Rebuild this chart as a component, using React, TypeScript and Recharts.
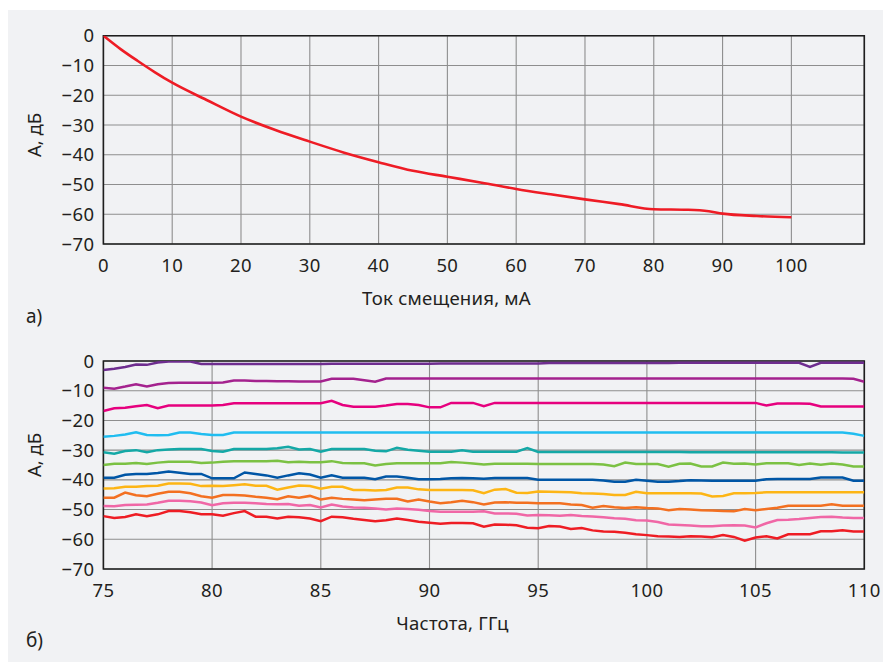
import React from 'react';
import { LineChart, Line, XAxis, YAxis, CartesianGrid, ReferenceArea } from 'recharts';

// ---------- panel a) : attenuation vs bias current ----------
const currentMA = [0, 2.5, 5, 7.5, 10, 15, 20, 25, 30, 35, 40, 45, 50, 55, 60, 65, 70, 75, 80, 85, 88, 90, 95, 100];
const attenuationDb = [0, -4.5, -8.5, -12.3, -15.8, -21.6, -27.2, -31.7, -35.6, -39.3, -42.5, -45.4, -47.4, -49.4, -51.5, -53.3, -55.0, -56.6, -58.3, -58.5, -59.0, -59.8, -60.6, -61.0];
const currentTicks = [0, 10, 20, 30, 40, 50, 60, 70, 80, 90, 100];
const dbTicks = [0, -10, -20, -30, -40, -50, -60, -70];

// ---------- panel б) : attenuation vs frequency ----------
const freqGHz = [
  75, 75.5, 76, 76.5, 77, 77.5, 78, 78.5, 79, 79.5,
  80, 80.5, 81, 81.5, 82, 82.5, 83, 83.5, 84, 84.5,
  85, 85.5, 86, 86.5, 87, 87.5, 88, 88.5, 89, 89.5,
  90, 90.5, 91, 91.5, 92, 92.5, 93, 93.5, 94, 94.5,
  95, 95.5, 96, 96.5, 97, 97.5, 98, 98.5, 99, 99.5,
  100, 100.5, 101, 101.5, 102, 102.5, 103, 103.5, 104, 104.5,
  105, 105.5, 106, 106.5, 107, 107.5, 108, 108.5, 109, 109.5,
  110,
];
const freqTicks = [75, 80, 85, 90, 95, 100, 105, 110];

const s1 = [
  -3.0, -2.6, -2.0, -1.2, -1.3, -0.5, -0.2, -0.2, -0.2, -1.0,
  -1.0, -1.0, -1.0, -1.0, -1.0, -1.0, -1.0, -1.0, -1.0, -1.0,
  -1.0, -0.9, -0.9, -0.9, -0.9, -0.9, -0.9, -0.9, -0.9, -0.9,
  -0.9, -0.8, -0.8, -0.8, -0.8, -0.8, -0.8, -0.8, -0.8, -0.8,
  -0.8, -0.7, -0.7, -0.7, -0.7, -0.7, -0.7, -0.7, -0.7, -0.7,
  -0.7, -0.7, -0.7, -0.6, -0.6, -0.6, -0.6, -0.6, -0.6, -0.6,
  -0.6, -0.6, -0.6, -0.6, -0.6, -2.0, -0.6, -0.6, -0.6, -0.6,
  -0.6,
];
const s2 = [
  -9.0, -9.3, -8.6, -7.8, -8.6, -7.8, -7.4, -7.3, -7.3, -7.3,
  -7.3, -7.2, -6.6, -6.6, -6.7, -6.7, -6.8, -6.8, -6.9, -6.9,
  -6.9, -6.0, -6.0, -6.0, -6.5, -7.0, -5.9, -5.9, -5.9, -5.9,
  -5.9, -5.9, -5.9, -5.9, -5.9, -5.9, -5.9, -5.9, -5.9, -5.9,
  -5.9, -5.9, -5.9, -5.9, -5.9, -5.9, -5.9, -5.9, -5.9, -5.9,
  -5.9, -5.9, -5.9, -5.9, -5.9, -5.9, -5.9, -5.9, -5.9, -5.9,
  -5.9, -5.9, -5.9, -5.9, -5.9, -5.9, -5.9, -5.9, -5.9, -6.0,
  -7.0,
];
const s3 = [
  -16.8, -15.9, -15.7, -15.2, -14.8, -15.9, -15.0, -15.0, -15.0, -15.0,
  -15.0, -14.8, -14.2, -14.2, -14.2, -14.2, -14.2, -14.2, -14.2, -14.2,
  -14.2, -13.4, -14.8, -15.4, -15.4, -15.4, -15.0, -14.5, -14.5, -14.8,
  -15.6, -15.6, -14.1, -14.1, -14.1, -15.2, -14.1, -14.1, -14.1, -14.1,
  -14.1, -14.1, -14.1, -14.1, -14.1, -14.1, -14.1, -14.1, -14.1, -14.1,
  -14.1, -14.1, -14.1, -14.1, -14.1, -14.1, -14.1, -14.1, -14.1, -14.1,
  -14.1, -15.0, -14.3, -14.3, -14.3, -14.4, -15.3, -15.3, -15.3, -15.3,
  -15.3,
];
const s4 = [
  -25.5, -25.2, -24.7, -24.0, -24.9, -25.0, -24.9, -24.1, -24.1, -24.6,
  -24.9, -24.9, -24.1, -24.1, -24.1, -24.1, -24.1, -24.1, -24.1, -24.1,
  -24.1, -24.1, -24.1, -24.1, -24.1, -24.1, -24.1, -24.1, -24.1, -24.1,
  -24.1, -24.1, -24.1, -24.1, -24.1, -24.1, -24.1, -24.1, -24.1, -24.1,
  -24.1, -24.1, -24.1, -24.1, -24.1, -24.1, -24.1, -24.1, -24.1, -24.1,
  -24.1, -24.1, -24.1, -24.1, -24.1, -24.1, -24.1, -24.1, -24.1, -24.1,
  -24.1, -24.1, -24.1, -24.1, -24.1, -24.1, -24.1, -24.1, -24.1, -24.5,
  -25.2,
];
const s5 = [
  -30.7, -31.2, -30.3, -30.0, -30.7, -30.0, -29.8, -29.6, -29.6, -29.6,
  -30.3, -30.5, -29.6, -29.6, -29.6, -29.6, -29.4, -28.9, -29.8, -29.6,
  -30.5, -29.6, -29.6, -29.6, -29.6, -30.2, -30.4, -29.2, -29.9, -30.2,
  -30.5, -30.5, -30.5, -30.0, -30.5, -30.5, -30.5, -30.5, -30.5, -29.3,
  -30.6, -30.6, -30.6, -30.6, -30.6, -30.6, -30.6, -30.6, -30.6, -30.6,
  -30.6, -30.6, -30.6, -30.6, -30.7, -30.7, -30.7, -30.7, -30.7, -30.7,
  -30.7, -30.7, -30.7, -30.7, -30.7, -30.7, -30.7, -30.7, -30.8, -30.8,
  -30.8,
];
const s6 = [
  -35.0, -34.6, -34.6, -34.3, -34.7, -34.2, -33.9, -33.9, -33.9, -34.3,
  -34.2, -33.9, -33.7, -33.7, -33.7, -33.7, -33.6, -34.1, -33.9, -34.1,
  -34.1, -33.7, -34.3, -34.4, -34.4, -35.2, -34.7, -34.4, -34.4, -34.4,
  -34.4, -34.4, -34.0, -34.2, -34.5, -34.8, -34.6, -34.6, -34.6, -34.6,
  -34.7, -34.7, -34.7, -34.7, -34.7, -34.7, -34.8, -35.4, -34.2, -34.7,
  -34.7, -34.7, -35.6, -34.6, -34.5, -35.5, -35.5, -34.2, -34.6, -34.5,
  -34.8, -34.4, -34.4, -34.4, -35.0, -34.5, -34.9, -34.5, -34.8, -35.5,
  -35.5,
];
const s7 = [
  -39.3, -39.3, -38.3, -38.0, -38.0, -37.7, -37.2, -37.6, -38.0, -38.0,
  -39.5, -39.5, -39.5, -37.5, -38.0, -38.5, -39.3, -38.5, -37.8, -38.2,
  -39.3, -38.5, -39.3, -39.3, -39.3, -39.8, -38.9, -38.9, -39.3, -39.8,
  -39.8, -39.7, -39.5, -39.4, -39.5, -39.6, -39.4, -39.4, -39.4, -39.4,
  -40.0, -40.0, -40.0, -40.0, -40.0, -40.0, -40.2, -40.6, -40.6, -40.0,
  -40.3, -40.6, -40.6, -40.4, -40.1, -40.2, -40.3, -40.3, -40.3, -40.3,
  -40.3, -39.8, -39.7, -39.7, -39.7, -39.7, -39.2, -39.2, -39.2, -40.3,
  -40.3,
];
const s8 = [
  -42.9, -42.8, -42.3, -42.3, -42.1, -42.0, -41.2, -41.2, -41.3, -42.1,
  -42.0, -42.1, -41.8, -41.5, -42.0, -42.0, -43.3, -42.6, -41.9, -42.1,
  -43.0, -42.3, -42.3, -43.4, -43.4, -43.6, -43.4, -42.6, -42.6, -43.2,
  -43.4, -43.4, -43.4, -43.4, -43.5, -44.5, -43.3, -43.1, -44.3, -44.4,
  -43.9, -44.0, -44.1, -44.2, -44.5, -44.6, -44.8, -45.1, -45.1, -44.0,
  -44.5, -44.5, -44.5, -44.5, -44.5, -44.6, -45.6, -45.4, -44.5, -44.5,
  -44.4, -44.2, -44.2, -44.2, -44.2, -44.2, -44.2, -44.2, -44.2, -44.2,
  -44.2,
];
const s9 = [
  -46.0, -46.0, -44.3, -45.2, -45.5, -44.7, -44.0, -44.0, -44.5, -45.5,
  -46.0, -45.1, -45.1, -45.3, -45.7, -46.0, -46.5, -45.5, -46.0, -45.4,
  -46.6, -46.0, -46.4, -46.6, -46.9, -46.6, -46.4, -46.4, -47.3, -46.6,
  -47.3, -47.9, -47.5, -47.0, -47.5, -48.3, -47.6, -47.5, -47.7, -47.7,
  -47.9, -47.9, -47.9, -48.3, -48.5, -49.4, -48.8, -49.2, -49.5, -49.2,
  -49.5, -49.6, -50.2, -49.8, -50.0, -50.2, -50.3, -50.5, -50.6, -49.8,
  -50.2, -49.8, -49.4, -48.7, -48.7, -48.7, -48.7, -48.2, -48.7, -48.7,
  -48.7,
];
const s10 = [
  -48.8, -48.9, -48.5, -48.4, -48.3, -47.7, -47.0, -47.0, -47.2, -47.6,
  -48.5, -47.9, -47.7, -47.7, -47.9, -48.1, -48.2, -48.1, -48.7, -48.5,
  -49.3, -48.3, -49.0, -49.3, -49.4, -49.6, -50.0, -49.6, -49.8, -50.1,
  -50.5, -50.7, -50.7, -50.7, -50.7, -50.6, -51.3, -51.3, -51.4, -52.0,
  -51.8, -51.9, -52.1, -51.8, -52.2, -52.3, -52.6, -52.9, -53.1, -53.6,
  -53.7, -54.2, -55.0, -55.2, -55.4, -55.6, -55.6, -55.4, -55.3, -55.4,
  -56.0, -54.6, -53.5, -53.4, -53.2, -52.8, -52.5, -52.4, -52.7, -52.8,
  -52.8,
];
const s11 = [
  -52.2, -52.8, -52.5, -51.6, -52.2, -51.6, -50.5, -50.5, -50.9, -51.6,
  -51.6, -52.1, -51.2, -50.5, -52.4, -52.4, -53.0, -52.4, -52.6, -53.0,
  -53.9, -52.4, -52.6, -53.1, -53.5, -53.9, -53.6, -53.0, -53.5, -54.1,
  -54.4, -54.8, -54.5, -54.5, -54.6, -55.8, -55.0, -55.1, -55.3, -56.1,
  -56.3, -55.5, -55.7, -56.5, -56.2, -57.0, -57.4, -57.5, -57.8, -58.3,
  -58.6, -59.0, -59.1, -59.2, -59.0, -59.1, -59.3, -58.6, -59.2, -60.5,
  -59.4, -59.0, -59.7, -58.3, -58.3, -58.3, -57.3, -57.3, -57.0, -57.4,
  -57.4,
];

const seriesValues: Record<string, number[]> = { s1, s2, s3, s4, s5, s6, s7, s8, s9, s10, s11 };
const seriesColors: Record<string, string> = {
  s1: '#6e2d8f',
  s2: '#a4228e',
  s3: '#e6007e',
  s4: '#20bdf0',
  s5: '#14a8a6',
  s6: '#7bc143',
  s7: '#0056a6',
  s8: '#fdb515',
  s9: '#f37021',
  s10: '#f067a6',
  s11: '#ee1d24',
};
const seriesKeys = Object.keys(seriesValues);

const topRows = currentMA.map((x, i) => ({ x, a: attenuationDb[i] }));
const bottomRows = freqGHz.map((f, i) => {
  const row: Record<string, number> = { f };
  seriesKeys.forEach((k) => {
    row[k] = seriesValues[k][i];
  });
  return row;
});

const FONT = '"Noto Sans", "Open Sans", sans-serif';
const TEXT = '#231f20';
const GRID = '#8e8e8e';
const BORDER = '#1e1e1e';
const fmt = (v: number) => String(v).replace('-', '\u2212');
const tickStyle = { fill: TEXT, fontSize: 18.5, fontFamily: FONT, letterSpacing: 0.4 };

export default function App() {
  return (
    <div style={{ position: 'absolute', left: 0, top: 0, width: 883, height: 662, fontFamily: FONT }}>
      <div style={{ position: 'absolute', left: 8, top: 10, width: 875, height: 652, background: '#f1f2f4' }} />

      <div style={{ position: 'absolute', left: 0, top: 0 }}>
        <LineChart width={883} height={330} data={topRows} margin={{ top: 35.7, right: 18.7, bottom: 56, left: 0 }}>
          <CartesianGrid stroke={GRID} strokeWidth={1.1} />
          <XAxis
            dataKey="x"
            type="number"
            domain={[0, 110.6]}
            ticks={currentTicks}
            interval={0}
            tickFormatter={fmt}
            axisLine={false}
            tickLine={false}
            tickSize={0}
            tickMargin={15}
            height={30}
            tick={tickStyle}
            allowDataOverflow
          />
          <YAxis
            type="number"
            domain={[-70, 0]}
            ticks={dbTicks}
            interval={0}
            tickFormatter={fmt}
            axisLine={false}
            tickLine={false}
            tickSize={0}
            tickMargin={9}
            width={103.4}
            tick={tickStyle}
            allowDataOverflow
          />
          <Line type="monotone" dataKey="a" stroke="#ee1c25" strokeWidth={2.6} dot={false} isAnimationActive={false} />
          <ReferenceArea x1={0} x2={110.6} y1={-70} y2={0} fill="none" fillOpacity={0} stroke={BORDER} strokeWidth={1.6} />
        </LineChart>
      </div>

      <div style={{ position: 'absolute', left: 0, top: 330 }}>
        <LineChart width={883} height={332} data={bottomRows} margin={{ top: 31, right: 18.7, bottom: 63, left: 0 }}>
          <CartesianGrid stroke={GRID} strokeWidth={1.1} />
          <XAxis
            dataKey="f"
            type="number"
            domain={[75, 110]}
            ticks={freqTicks}
            interval={0}
            tickFormatter={fmt}
            axisLine={false}
            tickLine={false}
            tickSize={0}
            tickMargin={15}
            height={30}
            tick={tickStyle}
            allowDataOverflow
          />
          <YAxis
            type="number"
            domain={[-70, 0]}
            ticks={dbTicks}
            interval={0}
            tickFormatter={fmt}
            axisLine={false}
            tickLine={false}
            tickSize={0}
            tickMargin={9}
            width={103.4}
            tick={tickStyle}
            allowDataOverflow
          />
          {seriesKeys.map((k) => (
            <Line
              key={k}
              type="linear"
              dataKey={k}
              stroke={seriesColors[k]}
              strokeWidth={2.5}
              dot={false}
              isAnimationActive={false}
            />
          ))}
          <ReferenceArea x1={75} x2={110} y1={-70} y2={0} fill="none" fillOpacity={0} stroke={BORDER} strokeWidth={1.6} />
        </LineChart>
      </div>

      <svg
        width={883}
        height={662}
        style={{ position: 'absolute', left: 0, top: 0, pointerEvents: 'none' }}
        fontFamily={FONT}
        fill={TEXT}
      >
        <text transform="translate(40.5,135) rotate(-90)" textAnchor="middle" fontSize={18.5}>А, дБ</text>
        <text transform="translate(40.5,455) rotate(-90)" textAnchor="middle" fontSize={18.5}>А, дБ</text>
        <text x={446.5} y={304.5} textAnchor="middle" fontSize={18.6} letterSpacing={0.2}>Ток смещения, мА</text>
        <text x={452.5} y={630} textAnchor="middle" fontSize={18.6} letterSpacing={0.2}>Частота, ГГц</text>
        <text x={26} y={323} fontSize={19}>а)</text>
        <text x={26} y={647} fontSize={19}>б)</text>
      </svg>
    </div>
  );
}
